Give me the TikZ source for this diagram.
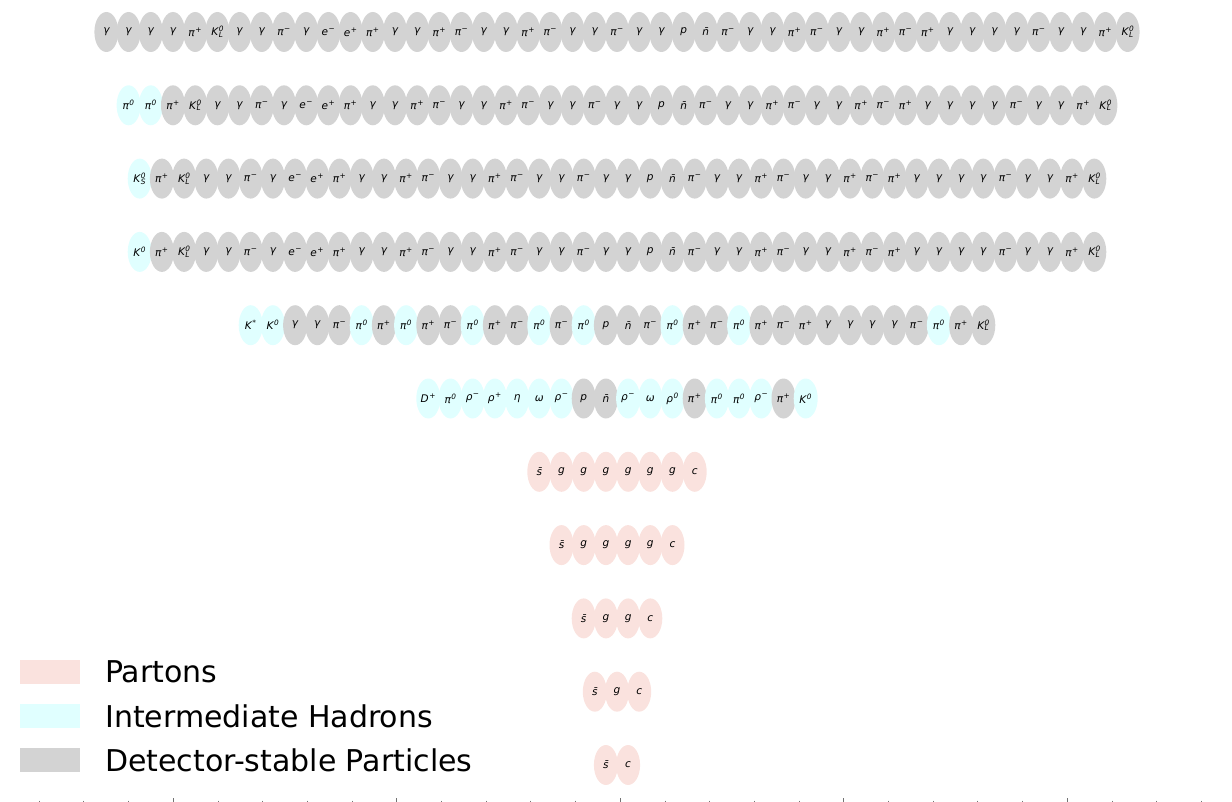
\documentclass[tikz,border=0pt]{standalone}
\usepackage{fontspec}
\setmainfont{DejaVu Sans}
\usetikzlibrary{shapes.geometric}

\definecolor{stablegray}{RGB}{211,211,211}
\definecolor{hadroncyan}{RGB}{224,255,255}
\definecolor{partonpink}{RGB}{250,226,222}

\newcommand{\ptsup}[1]{\kern0.5bp\textsuperscript{#1}}
\newcommand{\supsub}[2]{\kern0.5bp\rlap{\textsuperscript{#1}}\textsubscript{#2}}

% one row of particles, centred on x=617
\newcommand{\particlerow}[3]{%
  \foreach \p [count=\i] in #3 {
    \node[name=p#1-\i, at={({617+(\i-(#2+1)/2)*22.2},{32+73.3*(#1-1)})}, pt-\p];
  }}

\def\tailitems{pip,KL,gam,gam,pim,gam,el,po,pip,gam,gam,pip,pim,gam,gam,pip,pim,gam,gam,pim,gam,gam,p,nbar,pim,gam,gam,pip,pim,gam,gam,pip,pim,pip,gam,gam,gam,gam,pim,gam,gam,pip,KL}
\edef\rowone{gam,gam,gam,gam,\tailitems}
\edef\rowtwo{piz,piz,\tailitems}
\edef\rowthree{KS,\tailitems}
\edef\rowfour{Kz,\tailitems}
\def\rowfive{Kst,Kz,gam,gam,pim,piz,pip,piz,pip,pim,piz,pip,pim,piz,pim,piz,p,nbar,pim,piz,pip,pim,piz,pip,pim,pip,gam,gam,gam,gam,pim,piz,pip,KL}
\def\rowsix{Dp,piz,rhom,rhop,eta,omega,rhom,p,nbar,rhom,omega,rhoz,pip,piz,piz,rhom,pip,Kz}
\def\rowseven{sbar,g,g,g,g,g,g,c}
\def\roweight{sbar,g,g,g,g,c}
\def\rownine{sbar,g,g,c}
\def\rowten{sbar,g,c}
\def\roweleven{sbar,c}

\begin{document}
\begin{tikzpicture}[x=1bp, y=-1bp,
  particle/.style={ellipse, minimum width=24bp, minimum height=40bp, inner sep=0pt,
    font=\fontsize{10.5bp}{12bp}\selectfont\itshape},
  stable/.style={particle, fill=stablegray},
  hadron/.style={particle, fill=hadroncyan},
  parton/.style={particle, fill=partonpink},
  pt-gam/.style={stable, node contents={γ}},
  pt-pip/.style={stable, node contents={π\ptsup{+}}},
  pt-pim/.style={stable, node contents={π\ptsup{−}}},
  pt-piz/.style={hadron, node contents={π\ptsup{0}}},
  pt-KL/.style={stable, node contents={K\supsub{0}{L}}},
  pt-KS/.style={hadron, node contents={K\supsub{0}{S}}},
  pt-Kz/.style={hadron, node contents={K\ptsup{0}}},
  pt-Kst/.style={hadron, node contents={K\ptsup{*}}},
  pt-Dp/.style={hadron, node contents={D\ptsup{+}}},
  pt-el/.style={stable, node contents={e\ptsup{−}}},
  pt-po/.style={stable, node contents={e\ptsup{+}}},
  pt-p/.style={stable, node contents={p}},
  pt-nbar/.style={stable, node contents={\={n}}},
  pt-rhom/.style={hadron, node contents={ρ\ptsup{−}}},
  pt-rhop/.style={hadron, node contents={ρ\ptsup{+}}},
  pt-rhoz/.style={hadron, node contents={ρ\ptsup{0}}},
  pt-eta/.style={hadron, node contents={η}},
  pt-omega/.style={hadron, node contents={ω}},
  pt-sbar/.style={parton, node contents={\={s}}},
  pt-g/.style={parton, node contents={g}},
  pt-c/.style={parton, node contents={c}},
  legendbox/.style={minimum width=60bp, minimum height=24bp, inner sep=0pt},
  legendtext/.style={anchor=west, inner sep=0pt, font=\fontsize{30bp}{35bp}\selectfont},
  tickline/.style={draw=black!55, line width=0.6bp}]
\useasboundingbox (0,0) rectangle (1232,802);

% particle rows, from the final state down to the partons
\particlerow{1}{47}{\rowone}
\particlerow{2}{45}{\rowtwo}
\particlerow{3}{44}{\rowthree}
\particlerow{4}{44}{\rowfour}
\particlerow{5}{34}{\rowfive}
\particlerow{6}{18}{\rowsix}
\particlerow{7}{8}{\rowseven}
\particlerow{8}{6}{\roweight}
\particlerow{9}{4}{\rownine}
\particlerow{10}{3}{\rowten}
\particlerow{11}{2}{\roweleven}

% legend
\node[legendbox, fill=partonpink] (key-partons) at (50,672) {};
\node[legendbox, fill=hadroncyan] (key-hadrons) at (50,716) {};
\node[legendbox, fill=stablegray] (key-stable) at (50,760) {};
\node[legendtext] (txt-partons) at (105,672) {Partons};
\node[legendtext] (txt-hadrons) at (105,716) {Intermediate Hadrons};
\node[legendtext] (txt-stable) at (105,760) {Detector-stable Particles};

% ticks along the bottom edge
\foreach \k in {0,...,26} {
  \draw[tickline] ({39+44.7*\k},800.5) -- ++(0,1.5);
}
\foreach \k in {3,8,13,18,23} {
  \draw[tickline] ({39+44.7*\k},798) -- ++(0,4);
}
\end{tikzpicture}
\end{document}
